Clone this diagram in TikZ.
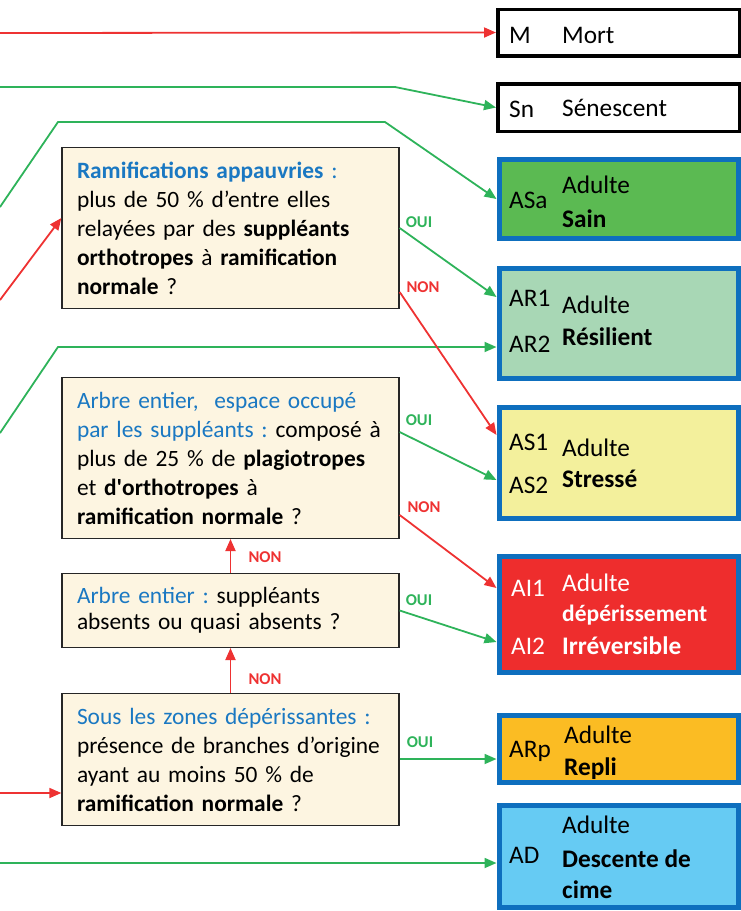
\documentclass[tikz,border=0pt]{standalone}
\usepackage{fontspec}
\setmainfont{Carlito}
\usetikzlibrary{arrows.meta}
\frenchspacing
\definecolor{rouge}{HTML}{EE3232}
\definecolor{vert}{HTML}{2EB35A}
\definecolor{bleutexte}{HTML}{1A78C2}
\definecolor{bleucadre}{HTML}{0E6FBE}
\definecolor{creme}{HTML}{FDF5E1}
\definecolor{fsain}{HTML}{5BBA52}
\definecolor{fresil}{HTML}{A8D7B5}
\definecolor{fstress}{HTML}{F3F09C}
\definecolor{firrev}{HTML}{EE2D2D}
\definecolor{frepli}{HTML}{FBBC23}
\definecolor{fdesc}{HTML}{66CBF3}
\newcommand{\bl}[1]{\textcolor{bleutexte}{#1}}

\begin{document}
\begin{tikzpicture}[x=1pt, y=-1pt,
  qbox/.style={draw=black!85, line width=1.3pt, fill=creme, align=left,
               text width=322pt, inner xsep=7.5pt, inner ysep=0pt,
               execute at begin node={\leftskip=7.5pt},
               font=\fontsize{23.4}{29}\selectfont},
  etat/.style={draw=bleucadre, line width=5pt, minimum width=239pt},
  etatnoir/.style={draw=black, line width=3.5pt, minimum width=241.5pt},
  code/.style={anchor=base west, inner sep=0pt, font=\fontsize{25.3}{30}\selectfont},
  gras/.style={code, font=\fontsize{25.3}{30}\selectfont\bfseries},
  lbloui/.style={text=vert, inner sep=0pt, font=\fontsize{16.5}{18}\selectfont\bfseries},
  lblnon/.style={lbloui, text=rouge},
  lineoui/.style={draw=vert, line width=1.8pt, -{Triangle[length=12pt,width=10pt]}},
  linenon/.style={lineoui, draw=rouge}]
\useasboundingbox (0,0) rectangle (741,911);

% questions
\node[qbox, minimum height=160.7pt] (Q1) at (230.5,228)
  {\bl{\textbf{Ramifications appauvries} :}\\
   plus de 50 \% d’entre elles\\
   relayées par des \textbf{suppléants}\\
   \textbf{orthotropes} à \textbf{ramification}\\
   \textbf{normale} ?};
\node[qbox, minimum height=160.7pt] (Q2) at (230.5,458)
  {\bl{Arbre entier,~ espace occupé}\\
   \bl{par les suppléants :} composé à\\
   plus de 25 \% de \textbf{plagiotropes}\\
   et \textbf{d\textquotesingle orthotropes} à\\
   \textbf{ramification normale} ?};
\node[qbox, minimum height=73.7pt, font=\fontsize{23.4}{26}\selectfont] (Q3) at (230.5,610.5)
  {\bl{Arbre entier :} suppléants\\
   absents ou quasi absents ?};
\node[qbox, minimum height=131.7pt] (Q4) at (230.5,759.5)
  {\bl{Sous les zones dépérissantes :}\\
   présence de branches d’origine\\
   ayant au moins 50 \% de\\
   \textbf{ramification normale} ?};

% etats
\node[etatnoir, minimum height=46.5pt] (M) at (618.5,32.5) {};
\node[code] (cM) at (509,43) {M};
\node[code] (tM) at (562,43) {Mort};
\node[etatnoir, minimum height=47.5pt] (Sn) at (618.5,107.5) {};
\node[code] (cSn) at (509,117) {Sn};
\node[code] (tSn) at (562,116) {Sénescent};
\node[etat, fill=fsain, minimum height=79pt] (ASa) at (618.5,199) {};
\node[code] (cASa) at (509,208) {ASa};
\node[code] (tASa) at (562,193) {Adulte};
\node[gras] (bASa) at (562,227) {Sain};
\node[etat, fill=fresil, minimum height=110pt] (AR) at (618.5,323.5) {};
\node[code] (cAR1) at (509,306) {AR1};
\node[code] (cAR2) at (509,352) {AR2};
\node[code] (tAR) at (562,313) {Adulte};
\node[gras] (bAR) at (562,345) {Résilient};
\node[etat, fill=fstress, minimum height=111pt] (AS) at (618.5,463) {};
\node[code] (cAS1) at (509,450) {AS1};
\node[code] (cAS2) at (509,493) {AS2};
\node[code] (tAS) at (562,456) {Adulte};
\node[gras] (bAS) at (562,487) {Stressé};
\node[etat, fill=firrev, minimum height=116pt] (AI) at (618.5,614.5) {};
\node[code, text=white] (cAI1) at (511,596) {AI1};
\node[code, text=white] (cAI2) at (511,654) {AI2};
\node[code, text=white] (tAI) at (562,591) {Adulte};
\node[gras, text=white, font=\fontsize{23.5}{28}\selectfont\bfseries] (dAI) at (562,621) {dépérissement};
\node[gras, text=white] (bAI) at (562,654) {Irréversible};
\node[etat, fill=frepli, minimum height=67pt] (ARp) at (618.5,749) {};
\node[code] (cARp) at (509,757) {ARp};
\node[code] (tARp) at (564,743) {Adulte};
\node[gras] (bARp) at (564,775) {Repli};
\node[etat, fill=fdesc, minimum height=102pt] (AD) at (618.5,856.5) {};
\node[code] (cAD) at (509,863) {AD};
\node[code] (tAD) at (562,833) {Adulte};
\node[gras] (bAD) at (562,867) {Descente de};
\node[gras] (bAD2) at (562,898) {cime};

% entrees depuis la gauche
\coordinate (gM) at (0,33);
\coordinate (gSn) at (0,87);
\coordinate (kSn) at (395,87);
\coordinate (gASa) at (0,207);
\coordinate (kASa1) at (58,122);
\coordinate (kASa2) at (385,122);
\coordinate (gQ1) at (0,300);
\coordinate (gAR) at (0,433);
\coordinate (kAR) at (58,347);
\coordinate (gQ4) at (0,793);
\coordinate (gAD) at (0,863);

\draw[linenon] (gM) -- (M.west);
\draw[lineoui] (gSn) -- (kSn) -- (Sn.west);
\draw[lineoui] (gASa) -- (kASa1) -- (kASa2) -- (ASa.west);
\draw[linenon] (gQ1) -- ([yshift=10pt]Q1.west);
\draw[lineoui] (gAR) -- (kAR) -- ([yshift=-23.5pt]AR.west);
\draw[linenon] (gQ4) -- (Q4.west |- gQ4);
\draw[lineoui] (gAD) -- (AD.west |- gAD);

% reponses
\draw[lineoui] (Q1.east) -- ([yshift=26.5pt]AR.west);
\draw[linenon] ([yshift=-64pt]Q1.east) -- ([yshift=28pt]AS.west);
\draw[lineoui] ([yshift=26pt]Q2.east) -- ([yshift=-17pt]AS.west);
\draw[linenon] ([yshift=-57pt]Q2.east) -- ([yshift=26.5pt]AI.west);
\draw[lineoui] (Q3.east) -- ([yshift=-27.5pt]AI.west);
\draw[linenon] (Q3.north) -- (Q2.south);
\draw[linenon] (Q4.north) -- (Q3.south);
\draw[lineoui] ([yshift=0.5pt]Q4.east) -- ([yshift=0.5pt]Q4.east -| ARp.west);

\node[lbloui] (o1) at (419,222) {OUI};
\node[lblnon] (n1) at (423,287) {NON};
\node[lbloui] (o2) at (419,420) {OUI};
\node[lblnon] (n2) at (424,507) {NON};
\node[lbloui] (o3) at (419,600) {OUI};
\node[lbloui] (o4) at (420,742) {OUI};
\node[lblnon] (n3) at (265,557) {NON};
\node[lblnon] (n4) at (265,679) {NON};
\end{tikzpicture}
\end{document}
